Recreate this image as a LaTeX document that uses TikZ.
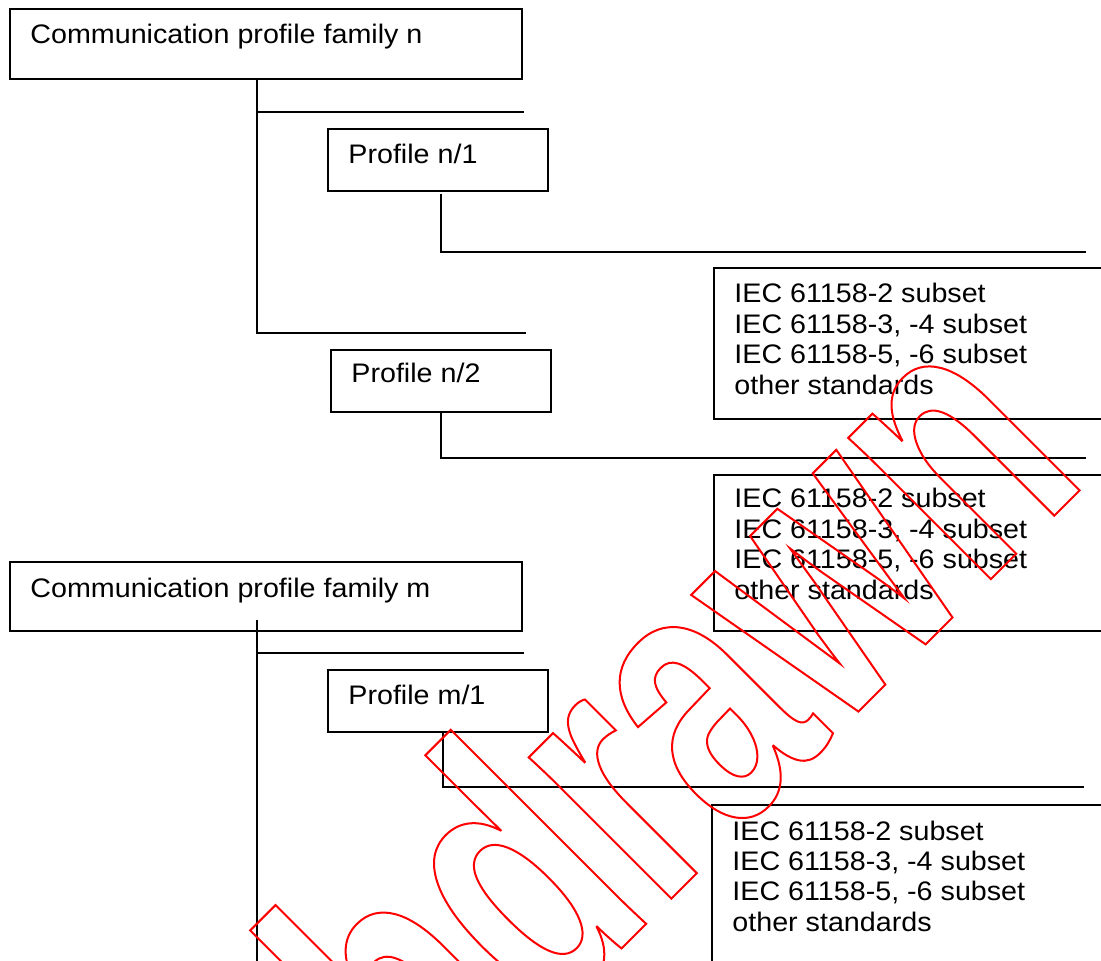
\documentclass[tikz,border=0pt]{standalone}
\usepackage{fontspec}
\setmainfont{Liberation Sans}[FakeStretch=1.07]
\newfontfamily\wmfont{Liberation Sans}[FakeStretch=0.69]
\newcommand\outlinetext[1]{\special{pdf:literal direct 1 Tr 1 w}#1\special{pdf:literal direct 0 Tr}}
\begin{document}
\begin{tikzpicture}[x=0.5pt,y=-0.5pt,
  box/.style={draw, line width=1pt, rectangle, inner sep=0pt, anchor=north west},
  lbl/.style={inner sep=0pt, anchor=base west, font=\fontsize{13.4}{15.2}\selectfont},
  conn/.style={line width=1pt}]
\useasboundingbox (0,0) rectangle (1101,961);
\clip (0,0) rectangle (1101,961);
% boxes
\node[box, minimum width=256pt, minimum height=35pt] (b1) at (9,8) {};
\node[box, minimum width=110pt, minimum height=31pt] (p1) at (327,128) {};
\node[box, minimum width=210pt, minimum height=75.5pt] (i1) at (713,267) {};
\node[box, minimum width=110pt, minimum height=31pt] (p2) at (330,349) {};
\node[box, minimum width=210pt, minimum height=78pt] (i2) at (713,474) {};
\node[box, minimum width=256pt, minimum height=34.5pt] (b2) at (9,561) {};
\node[box, minimum width=110pt, minimum height=31pt] (p3) at (327,669) {};
\node[box, minimum width=210pt, minimum height=100pt] (i3) at (711,804) {};
% labels
\node[lbl] (b1t) at (30,44) {Communication profile family n};
\node[lbl] (p1t) at (348,164) {Profile n/1};
\node[lbl] (i1t) at (734,303) {\vtop{\baselineskip=15.2pt\hbox{IEC 61158-2 subset}\hbox{IEC 61158-3, -4 subset}\hbox{IEC 61158-5, -6 subset}\hbox{other standards}}};
\node[lbl] (p2t) at (351,383) {Profile n/2};
\node[lbl] (i2t) at (734,508) {\vtop{\baselineskip=15.2pt\hbox{IEC 61158-2 subset}\hbox{IEC 61158-3, -4 subset}\hbox{IEC 61158-5, -6 subset}\hbox{other standards}}};
\node[lbl] (b2t) at (30,597) {Communication profile family m};
\node[lbl] (p3t) at (348,704) {Profile m/1};
\node[lbl] (i3t) at (732,840) {\vtop{\baselineskip=15.2pt\hbox{IEC 61158-2 subset}\hbox{IEC 61158-3, -4 subset}\hbox{IEC 61158-5, -6 subset}\hbox{other standards}}};
% connector coordinates
\coordinate (tn0) at (257,78);
\coordinate (tn1) at (257,112);
\coordinate (tn2) at (257,333);
\coordinate (bn1) at (524,112);
\coordinate (bn2) at (526,333);
\coordinate (s1a) at (441,194);
\coordinate (s1b) at (441,252);
\coordinate (s1c) at (1086,252);
\coordinate (s2a) at (441,411);
\coordinate (s2b) at (441,458);
\coordinate (s2c) at (1086,458);
\coordinate (tm0) at (257,620);
\coordinate (tm1) at (257,653);
\coordinate (tm2) at (257,975);
\coordinate (bm1) at (524,653);
\coordinate (s3a) at (443,731);
\coordinate (s3b) at (443,787);
\coordinate (s3c) at (1084,787);
% connectors
\draw[conn] (tn0) -- (tn2) -- (bn2);
\draw[conn] (tn1) -- (bn1);
\draw[conn] (s1a) -- (s1b) -- (s1c);
\draw[conn] (s2a) -- (s2b) -- (s2c);
\draw[conn] (tm0) -- (tm2);
\draw[conn] (tm1) -- (bm1);
\draw[conn] (s3a) -- (s3b) -- (s3c);
% watermark
\node[inner sep=0pt, anchor=base, rotate=45, text=red] (wm) at (618,952)
  {\wmfont\bfseries\fontsize{190}{190}\selectfont\outlinetext{Withdrawn}};
\end{tikzpicture}
\end{document}
